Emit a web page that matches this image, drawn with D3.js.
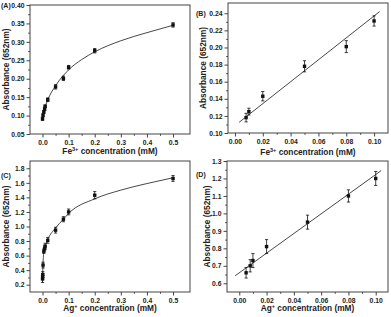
<!DOCTYPE html>
<html>
<head>
<meta charset="utf-8">
<script src="https://cdn.jsdelivr.net/npm/d3@7"></script>
<style>
body { margin: 0; background: #fff; }
svg { display: block; font-family: "Liberation Sans", Arial, sans-serif; font-weight: bold; }
.axis text { font-size: 6.8px; font-weight: bold; fill: #222; }
.axis path { display: none; }
.axis line { stroke: #444; }
</style>
</head>
<body>
<script>
// Fe3+ full range (A)
var feAllX = [0, 0.002, 0.005, 0.008, 0.01, 0.02, 0.05, 0.08, 0.1, 0.2, 0.5];
var feAllY = [0.091, 0.101, 0.110, 0.118, 0.125, 0.143, 0.178, 0.201, 0.231, 0.276, 0.346];
var feAllErr = [0.004, 0.004, 0.004, 0.005, 0.004, 0.005, 0.006, 0.006, 0.005, 0.006, 0.006];
var feFitX = [0, 0.005, 0.01, 0.02, 0.05, 0.1, 0.15, 0.2, 0.3, 0.4, 0.5];
var feFitY = [0.09, 0.112, 0.124, 0.143, 0.181, 0.224, 0.252, 0.273, 0.303, 0.325, 0.345];

// Fe3+ linear range (B)
var feLinX = [0.008, 0.01, 0.02, 0.05, 0.08, 0.1];
var feLinY = [0.118, 0.125, 0.143, 0.178, 0.201, 0.231];
var feLinErr = [0.005, 0.004, 0.0055, 0.0065, 0.007, 0.006];
var feLineX = [0.003, 0.104];
var feLineY = [0.1125, 0.242];

// Ag+ full range (C)
var agAllX = [0, 0.0005, 0.001, 0.002, 0.005, 0.008, 0.01, 0.02, 0.05, 0.08, 0.1, 0.2, 0.5];
var agAllY = [0.28, 0.31, 0.34, 0.47, 0.66, 0.70, 0.73, 0.81, 0.95, 1.10, 1.20, 1.43, 1.66];
var agAllErr = [0.05, 0.04, 0.04, 0.04, 0.03, 0.035, 0.04, 0.04, 0.04, 0.035, 0.04, 0.05, 0.04];
var agFitX = [0, 0.002, 0.005, 0.01, 0.02, 0.05, 0.08, 0.1, 0.2, 0.3, 0.4, 0.5];
var agFitY = [0.24, 0.50, 0.64, 0.72, 0.82, 0.98, 1.10, 1.18, 1.38, 1.50, 1.59, 1.67];

// Ag+ linear range (D)
var agLinX = [0.005, 0.008, 0.01, 0.02, 0.05, 0.08, 0.1];
var agLinY = [0.66, 0.70, 0.73, 0.81, 0.95, 1.10, 1.20];
var agLinErr = [0.03, 0.035, 0.04, 0.04, 0.04, 0.035, 0.04];
var agLineX = [-0.003, 0.104];
var agLineY = [0.643, 1.245];

// tick labels
var xTicksWide = [0, 0.1, 0.2, 0.3, 0.4, 0.5];
var xTicksNarrow = [0, 0.02, 0.04, 0.06, 0.08, 0.1];
var yTicksA = [0.05, 0.10, 0.15, 0.20, 0.25, 0.30, 0.35, 0.40];
var yTicksB = [0.10, 0.12, 0.14, 0.16, 0.18, 0.20, 0.22, 0.24];
var yTicksC = [0.2, 0.4, 0.6, 0.8, 1.0, 1.2, 1.4, 1.6, 1.8];
var yTicksD = [0.6, 0.7, 0.8, 0.9, 1.0, 1.1, 1.2, 1.3];

var svg = d3.select('body').append('svg')
    .attr('width', 391)
    .attr('height', 317);

function zip(xs, ys, es) {
  return xs.map(function(x, i) { return {x: x, y: ys[i], e: es ? es[i] : 0}; });
}

function minorsOf(ticks) {
  var out = [];
  for (var i = 0; i < ticks.length - 1; i++) out.push((ticks[i] + ticks[i + 1]) / 2);
  return out;
}

function panel(p) {
  var x = d3.scaleLinear().domain(p.xDomain).range([p.left, p.right]);
  var y = d3.scaleLinear().domain(p.yDomain).range([p.bottom, p.top]);
  var g = svg.append('g');

  // minor ticks
  g.append('g').attr('class', 'axis').attr('transform', 'translate(0,' + p.bottom + ')')
    .call(d3.axisBottom(x).tickValues(minorsOf(p.xTicks)).tickSize(1.8).tickFormat(''));
  g.append('g').attr('class', 'axis').attr('transform', 'translate(' + p.left + ',0)')
    .call(d3.axisLeft(y).tickValues(minorsOf(p.yTicks)).tickSize(1.8).tickFormat(''));

  // major ticks
  g.append('g').attr('class', 'axis').attr('transform', 'translate(0,' + p.bottom + ')')
    .call(d3.axisBottom(x).tickValues(p.xTicks).tickSize(3.5).tickPadding(2.5).tickFormat(d3.format(p.xFmt)));
  g.append('g').attr('class', 'axis').attr('transform', 'translate(' + p.left + ',0)')
    .call(d3.axisLeft(y).tickValues(p.yTicks).tickSize(3.5).tickPadding(2).tickFormat(d3.format(p.yFmt)));

  g.append('rect')
    .attr('x', p.left).attr('y', p.top)
    .attr('width', p.right - p.left).attr('height', p.bottom - p.top)
    .attr('fill', 'none').attr('stroke', '#444').attr('stroke-width', 1);

  // fit curve or line
  var line = d3.line()
    .x(function(d) { return x(d.x); })
    .y(function(d) { return y(d.y); })
    .curve(p.curve || d3.curveLinear);
  g.append('path').datum(zip(p.fitX, p.fitY))
    .attr('d', line)
    .attr('fill', 'none').attr('stroke', '#333').attr('stroke-width', 0.9);

  var pts = zip(p.px, p.py, p.pe);
  var eb = g.append('g').attr('stroke', '#111').attr('stroke-width', 0.8);
  eb.selectAll('line.v').data(pts).enter().append('line')
    .attr('x1', function(d) { return x(d.x); }).attr('x2', function(d) { return x(d.x); })
    .attr('y1', function(d) { return y(d.y - d.e); }).attr('y2', function(d) { return y(d.y + d.e); });
  eb.selectAll('line.t').data(pts).enter().append('line')
    .attr('x1', function(d) { return x(d.x) - 1.6; }).attr('x2', function(d) { return x(d.x) + 1.6; })
    .attr('y1', function(d) { return y(d.y + d.e); }).attr('y2', function(d) { return y(d.y + d.e); });
  eb.selectAll('line.b').data(pts).enter().append('line')
    .attr('x1', function(d) { return x(d.x) - 1.6; }).attr('x2', function(d) { return x(d.x) + 1.6; })
    .attr('y1', function(d) { return y(d.y - d.e); }).attr('y2', function(d) { return y(d.y - d.e); });

  g.selectAll('rect.pt').data(pts).enter().append('rect')
    .attr('x', function(d) { return x(d.x) - 1.7; })
    .attr('y', function(d) { return y(d.y) - 1.7; })
    .attr('width', 3.4).attr('height', 3.4)
    .attr('fill', '#111');

  // panel label
  g.append('text').attr('x', p.labX).attr('y', p.labY)
    .style('font-size', '7px').attr('fill', '#222').text(p.label);

  // y title
  g.append('text')
    .attr('transform', 'translate(' + p.yTitleX + ',' + ((p.top + p.bottom) / 2) + ') rotate(-90)')
    .style('text-anchor', 'middle').style('font-size', '8.3px').attr('fill', '#222')
    .text('Absorbance (652nm)');

  // x title with superscript
  var t = g.append('text')
    .attr('x', (p.left + p.right) / 2).attr('y', p.xTitleY)
    .style('text-anchor', 'middle').style('font-size', '8.3px').attr('fill', '#222');
  t.append('tspan').text(p.ion);
  t.append('tspan').attr('dy', -3).style('font-size', '5.5px').text(p.charge);
  t.append('tspan').attr('dy', 3).text(' concentration (mM)');
}

panel({
  left: 30, right: 190, top: 5, bottom: 134,
  xDomain: [-0.048, 0.565], yDomain: [0.05, 0.40],
  xTicks: xTicksWide, yTicks: yTicksA, xFmt: '.1f', yFmt: '.2f',
  px: feAllX, py: feAllY, pe: feAllErr, fitX: feFitX, fitY: feFitY, curve: d3.curveMonotoneX,
  label: '(A)', labX: 1, labY: 8, yTitleX: 9, xTitleY: 154, ion: 'Fe', charge: '3+'
});

panel({
  left: 228, right: 388, top: 3, bottom: 133,
  xDomain: [-0.005, 0.11], yDomain: [0.10, 0.252],
  xTicks: xTicksNarrow, yTicks: yTicksB, xFmt: '.2f', yFmt: '.2f',
  px: feLinX, py: feLinY, pe: feLinErr, fitX: feLineX, fitY: feLineY,
  label: '(B)', labX: 196, labY: 16, yTitleX: 206, xTitleY: 155, ion: 'Fe', charge: '3+'
});

panel({
  left: 30, right: 190, top: 161, bottom: 292,
  xDomain: [-0.048, 0.565], yDomain: [0.1, 1.9],
  xTicks: xTicksWide, yTicks: yTicksC, xFmt: '.1f', yFmt: '.1f',
  px: agAllX, py: agAllY, pe: agAllErr, fitX: agFitX, fitY: agFitY, curve: d3.curveMonotoneX,
  label: '(C)', labX: 1, labY: 178, yTitleX: 9, xTitleY: 311, ion: 'Ag', charge: '+'
});

panel({
  left: 227, right: 388, top: 161, bottom: 292,
  xDomain: [-0.009, 0.109], yDomain: [0.55, 1.3],
  xTicks: xTicksNarrow, yTicks: yTicksD, xFmt: '.2f', yFmt: '.1f',
  px: agLinX, py: agLinY, pe: agLinErr, fitX: agLineX, fitY: agLineY,
  label: '(D)', labX: 196, labY: 177, yTitleX: 210, xTitleY: 311, ion: 'Ag', charge: '+'
});
</script>
</body>
</html>
